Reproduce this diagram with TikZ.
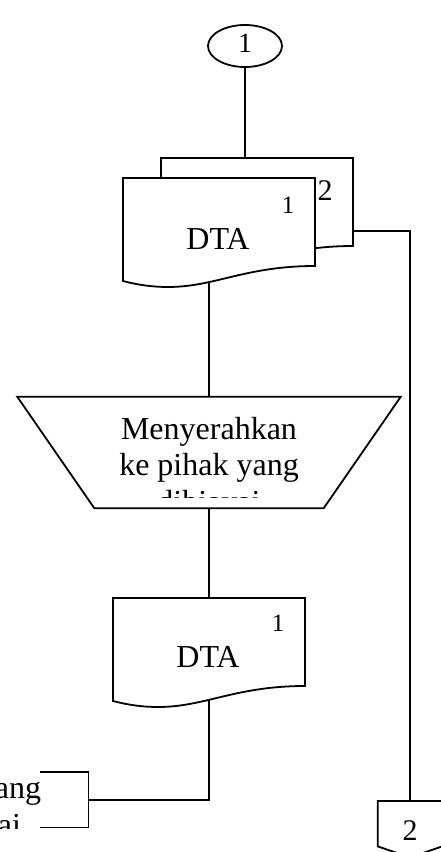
\documentclass[tikz,border=0pt]{standalone}
\usepackage{fontspec}
\setmainfont{Liberation Serif}
\usetikzlibrary{calc,shapes.geometric}
\pgfdeclarelayer{bg}
\pgfsetlayers{bg,main}

\begin{document}
\begin{tikzpicture}[x=1pt,y=-1pt,
  shape line/.style={draw=black, line width=1.8pt, fill=white, line join=miter},
  wire/.style={draw=black, line width=1.8pt},
  frame/.style={rectangle, inner sep=0pt, anchor=north west},
  docframe/.style={frame, minimum width=192pt, minimum height=103pt},
  lbl/.style={inner sep=0pt, anchor=base},
  big/.style={font=\fontsize{32}{36.5}\selectfont},
  docshape/.pic={
    \draw[shape line] (0,0) -- (192,0) -- (192,88)
      .. controls (122,88) and (92,109) .. (45,109)
      .. controls (30,109) and (15,107) .. (0,103) -- cycle;
  }
]
\useasboundingbox (0,0) rectangle (441,852);

% on-page connector
\node[draw, ellipse, line width=1.8pt, fill=white, inner sep=0pt,
      minimum width=74pt, minimum height=42pt] (c1) at (245,46) {};
\node[lbl, font=\fontsize{28}{28}\selectfont] (c1t) at (245,52.5) {1};

% two-copy document
\node[docframe] (back) at (161,158) {};
\pic at (back.north west) {docshape};
\node[docframe] (front) at (123,178) {};
\pic at (front.north west) {docshape};
\node[lbl, font=\fontsize{30}{30}\selectfont] (backno) at (325,200) {2};
\node[lbl, font=\fontsize{25}{25}\selectfont] (frontno) at (288,213) {1};
\node[lbl, big] (dta1) at (218,249) {DTA};

% manual operation
\node[rectangle, inner sep=0pt, minimum width=383pt, minimum height=111pt] (trap) at (209,452.5) {};
\draw[shape line] (trap.north west) -- (trap.north east)
  -- ($(trap.south east)+(-77,0)$) -- ($(trap.south west)+(77,0)$) -- cycle;
\begin{scope}
  \clip (0,397) rectangle (441,497);
  % base anchor sits on the last line
  \node[lbl, big, align=center] (traptext) at (209,512) {Menyerahkan\\ke pihak yang\\dibiayai};
\end{scope}

% document after hand-over
\node[docframe] (lowdoc) at (113,598) {};
\pic at (lowdoc.north west) {docshape};
\node[lbl, font=\fontsize{25}{25}\selectfont] (lowno) at (278,631) {1};
\node[lbl, big] (dta2) at (208,667) {DTA};

% annotation
\node[frame, minimum width=48pt, minimum height=55pt] (annot) at (40,772) {};
\draw[wire] (annot.north west) -- (annot.north east) -- (annot.south east) -- (annot.south west);
\begin{scope}
  \clip (0,760) rectangle (441,828);
  \node[lbl, big, align=center] (annottext) at (-30.5,835) {Pihak yang\\dibiayai};
\end{scope}

% off-page connector
\node[rectangle, inner sep=0pt, minimum width=64pt, minimum height=45pt, anchor=north] (off) at (410,801) {};
\draw[shape line] (off.north west) -- (off.north east) -- (off.south east)
  -- ($(off.south)+(0,11)$) -- (off.south west) -- cycle;
\node[lbl, font=\fontsize{30}{30}\selectfont] (offt) at (410,840) {2};

% flow lines
\begin{pgfonlayer}{bg}
  \draw[wire] (c1.south) -- (c1 |- back.north);
  \draw[wire] ($(back.north east)+(0,73)$) -| (off.north);
  \draw[wire] (trap.north) -- (trap.north |- front.center);
  \draw[wire] (trap.south) -- (trap.south |- lowdoc.center);
  \draw[wire] (lowdoc.center) |- (annot.east);
\end{pgfonlayer}
\end{tikzpicture}
\end{document}
